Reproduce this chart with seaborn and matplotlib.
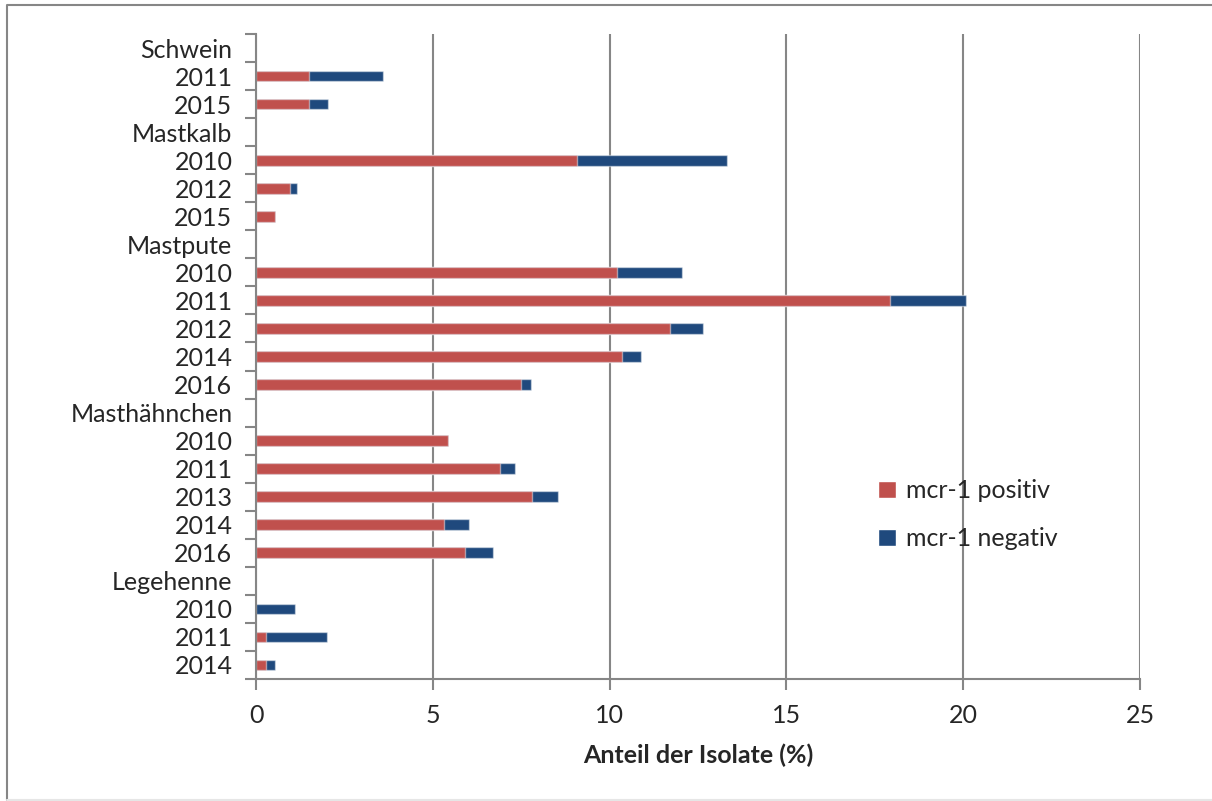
import matplotlib
matplotlib.use("Agg")
import matplotlib.pyplot as plt
from matplotlib.patches import Patch
from matplotlib.lines import Line2D
from matplotlib.ticker import FixedLocator
import pandas as pd
import seaborn as sns

# Tierart-Gruppen und Jahre (von oben nach unten)
groups = ["Schwein", "Mastkalb", "Mastpute", "Masthähnchen", "Legehenne"]
years = [
    ["2011", "2015"],
    ["2010", "2012", "2015"],
    ["2010", "2011", "2012", "2014", "2016"],
    ["2010", "2011", "2013", "2014", "2016"],
    ["2010", "2011", "2014"],
]
# Anteil der Isolate (%)
positiv = [
    [1.49, 1.49],
    [9.09, 0.95, 0.53],
    [10.22, 17.92, 11.72, 10.36, 7.49],
    [5.44, 6.91, 7.81, 5.31, 5.91],
    [0.0, 0.29, 0.27],
]
negativ = [
    [2.10, 0.55],
    [4.24, 0.20, 0.0],
    [1.83, 2.17, 0.92, 0.54, 0.29],
    [0.0, 0.41, 0.74, 0.72, 0.79],
    [1.11, 1.72, 0.28],
]

RED = "#C0504D"
BLUE = "#1F497D"
GREY = "#868686"

# rows incl. group headers, unique keys so seaborn keeps every slot
order, labels, rows = [], [], []
for g, ys, ps, ns in zip(groups, years, positiv, negativ):
    order.append(g)
    labels.append(g)
    for y, p, n in zip(ys, ps, ns):
        key = f"{g} {y}"
        order.append(key)
        labels.append(y)
        rows.append({"key": key, "positiv": p, "negativ": n, "total": p + n})
df = pd.DataFrame(rows)

sns.set_style("white")
plt.rcParams["font.family"] = ["Lato", "DejaVu Sans"]

fig = plt.figure(figsize=(12.12, 8.01), dpi=100)
ax = fig.add_axes([256 / 1212, 1 - 679 / 801, (1140 - 256) / 1212, (679 - 34) / 801])

edge = (1, 1, 1, 0.45)
sns.barplot(data=df, y="key", x="total", order=order, orient="h", color=BLUE,
            saturation=1, width=0.38, errorbar=None, edgecolor=edge, linewidth=1, ax=ax)
sns.barplot(data=df[df["positiv"] > 0], y="key", x="positiv", order=order, orient="h", color=RED,
            saturation=1, width=0.38, errorbar=None, edgecolor=edge, linewidth=1, ax=ax)

ax.set_xlim(0, 25)
ax.set_ylim(len(order) - 0.5, -0.5)
ax.set_xticks([0, 5, 10, 15, 20, 25])
ax.set_xticklabels(["0", "5", "10", "15", "20", "25"], fontsize=18)
ax.set_yticks(range(len(order)))
ax.set_yticklabels(labels, fontsize=18)
ax.yaxis.set_minor_locator(FixedLocator([i - 0.5 for i in range(len(order) + 1)]))
ax.tick_params(axis="y", which="major", length=0, pad=17)
ax.tick_params(axis="y", which="minor", length=8, width=1.5, color=GREY, left=True)
ax.tick_params(axis="x", which="major", length=8, width=1.5, color=GREY, pad=10, bottom=True)

ax.grid(axis="x", color=GREY, linewidth=1.5)
ax.set_axisbelow(True)
for s in ["top", "right"]:
    ax.spines[s].set_visible(False)
for s in ["left", "bottom"]:
    ax.spines[s].set_color(GREY)
    ax.spines[s].set_linewidth(1.5)

ax.set_ylabel("")
ax.set_xlabel("Anteil der Isolate (%)", fontsize=18, fontweight="bold", labelpad=12)

handles = [Patch(facecolor=RED, label="mcr-1 positiv"), Patch(facecolor=BLUE, label="mcr-1 negativ")]
fig.legend(handles=handles, loc="upper left", bbox_to_anchor=(878 / 1212, 1 - 479 / 801),
           frameon=False, fontsize=18, handlelength=0.7, handleheight=0.7,
           handletextpad=0.4, labelspacing=1.0, borderpad=0, borderaxespad=0)

# outer chart border (left/top dark, bottom faint)
x0, y0, y1 = 7 / 1212, 1 / 801, 1 - 5 / 801
fig.add_artist(Line2D([x0, x0, 1.0], [y0, y1, y1], transform=fig.transFigure,
                      color=GREY, linewidth=1.5))
fig.add_artist(Line2D([x0, 1.0], [y0, y0], transform=fig.transFigure,
                      color="#E6E6E6", linewidth=1.5))

fig.savefig("out.png", dpi=100)
